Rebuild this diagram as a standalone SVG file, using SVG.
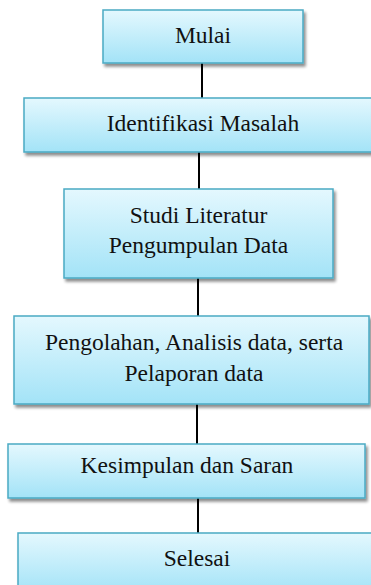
<svg xmlns="http://www.w3.org/2000/svg" width="371" height="585" viewBox="0 0 371 585">
<defs>
<linearGradient id="g" x1="0" y1="0" x2="0" y2="1">
<stop offset="0" stop-color="#e4f8fe"/>
<stop offset="1" stop-color="#a3e3f7"/>
</linearGradient>
<filter id="sh" x="-10%" y="-20%" width="125%" height="150%">
<feGaussianBlur in="SourceAlpha" stdDeviation="1.6"/>
<feOffset dx="2" dy="3" result="b"/>
<feComponentTransfer><feFuncA type="linear" slope="0.45"/></feComponentTransfer>
<feMerge><feMergeNode/><feMergeNode in="SourceGraphic"/></feMerge>
</filter>
</defs>
<style>
.box{fill:url(#g);stroke:#4aaac4;stroke-width:1.5;filter:url(#sh)}
.t{font-family:'Liberation Serif',Tinos,'Times New Roman','DejaVu Serif',serif;font-size:23.5px;fill:#111;text-anchor:middle}
.c{stroke:#000;stroke-width:2;fill:none}
</style>
<rect width="371" height="585" fill="#fff"/>
<g id="connectors">
<line class="c" x1="202" y1="63" x2="202" y2="98"/>
<line class="c" x1="199" y1="152" x2="199" y2="189"/>
<line class="c" x1="198" y1="278" x2="198" y2="316"/>
<line class="c" x1="197" y1="404" x2="197" y2="444"/>
<line class="c" x1="198" y1="498" x2="198" y2="533"/>
</g>
<g id="mulai">
<rect class="box" x="103" y="10" width="200" height="53"/>
<text class="t" font-family="Liberation Serif" x="203" y="42.5">Mulai</text>
</g>
<g id="identifikasi">
<rect class="box" x="24" y="98" width="358" height="54"/>
<text class="t" font-family="Liberation Serif" x="203" y="131">Identifikasi Masalah</text>
</g>
<g id="studi">
<rect class="box" x="64" y="189" width="269" height="89"/>
<text class="t" font-family="Liberation Serif" x="198.5" y="223">Studi Literatur</text>
<text class="t" font-family="Liberation Serif" x="198.5" y="253">Pengumpulan Data</text>
</g>
<g id="pengolahan">
<rect class="box" x="14" y="316" width="355" height="88"/>
<text class="t" font-family="Liberation Serif" x="194" y="350">Pengolahan, Analisis data, serta</text>
<text class="t" font-family="Liberation Serif" x="194" y="381">Pelaporan data</text>
</g>
<g id="kesimpulan">
<rect class="box" x="8" y="444" width="357" height="54"/>
<text class="t" font-family="Liberation Serif" x="187" y="473">Kesimpulan dan Saran</text>
</g>
<g id="selesai">
<rect class="box" x="18" y="533" width="358" height="60"/>
<text class="t" font-family="Liberation Serif" x="197" y="566">Selesai</text>
</g>
</svg>
